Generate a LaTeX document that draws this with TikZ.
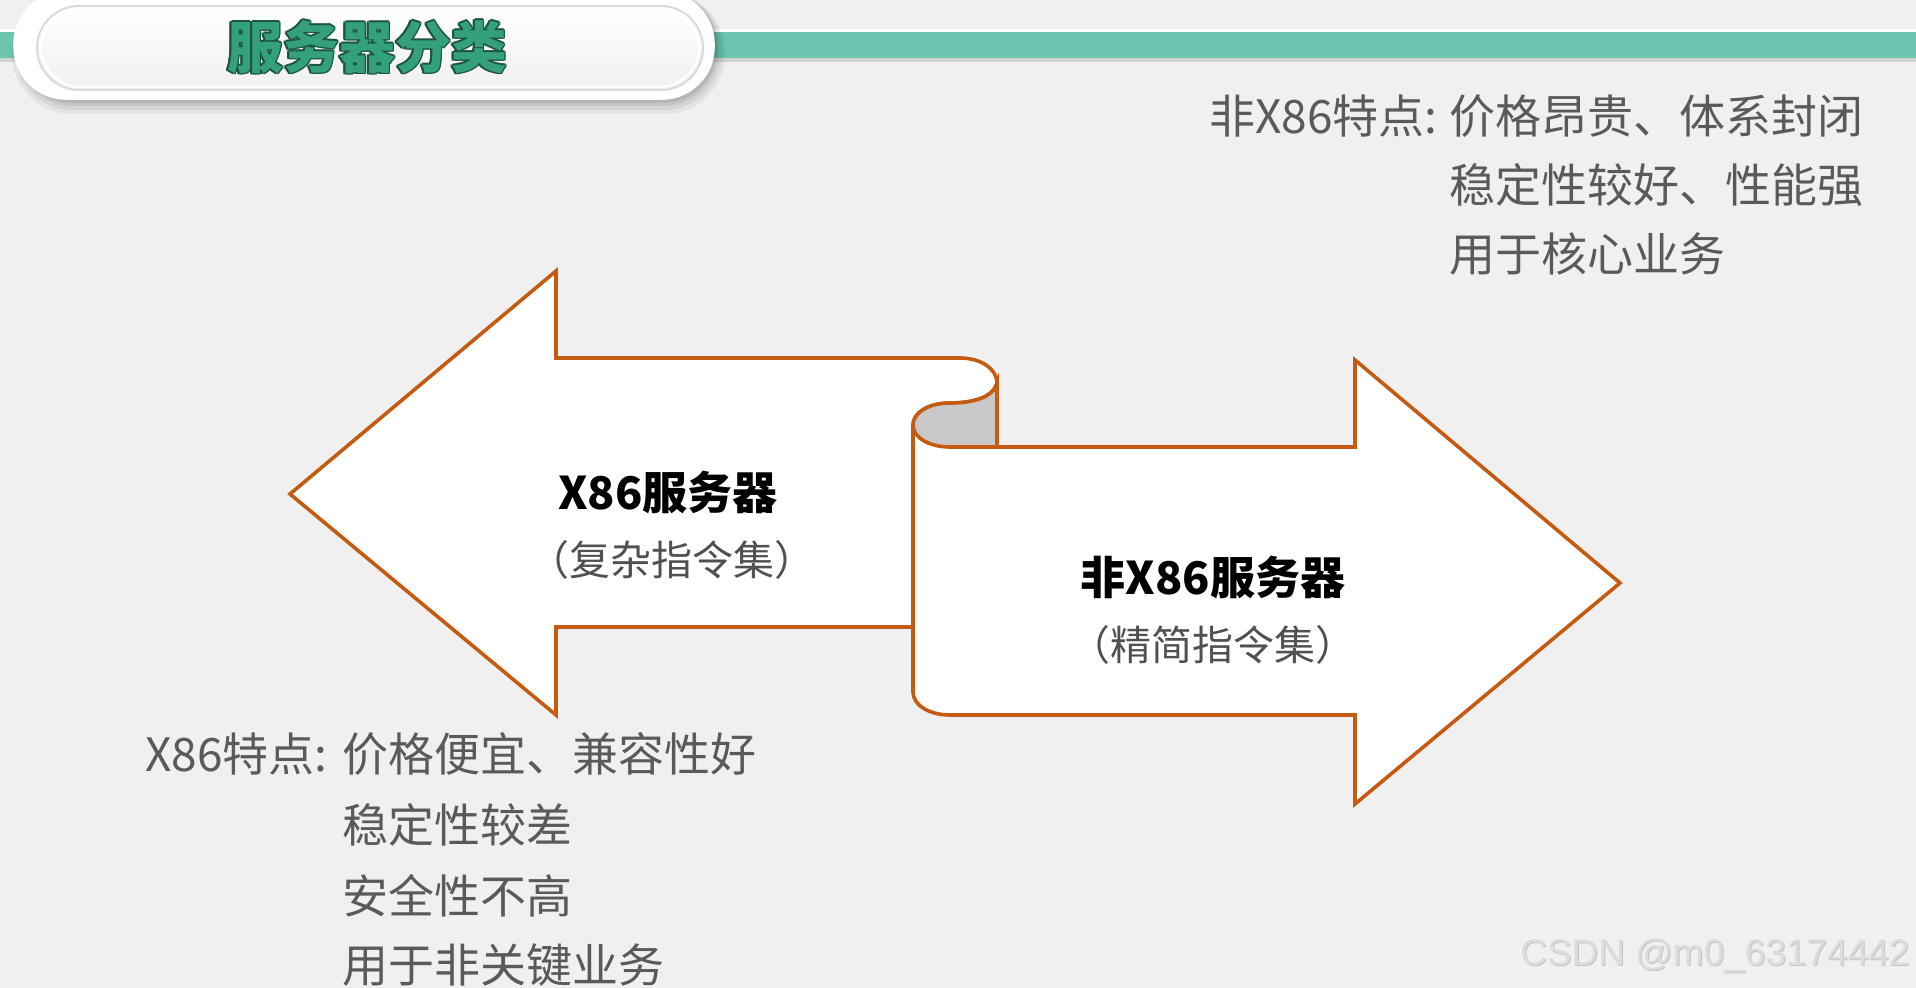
\documentclass[tikz,border=0pt]{standalone}
\usepackage{fontspec}
\usetikzlibrary{calc}
\setmainfont{Liberation Sans}
\newfontfamily\cjk{Noto Sans CJK SC}
\definecolor{bg}{HTML}{F0F0F0}
\definecolor{band}{HTML}{6AC4AE}
\definecolor{bandshadow}{HTML}{D0D3D2}
\definecolor{arrowline}{HTML}{C55A11}
\definecolor{curlfill}{HTML}{C8C8C8}
\definecolor{desctext}{HTML}{5A5A5A}
\definecolor{subtext}{HTML}{505050}
\definecolor{titlegreen}{HTML}{34A07C}
\definecolor{titledark}{HTML}{1B5443}
\definecolor{pillline}{HTML}{DADADA}
\definecolor{wmark}{HTML}{DCDCDC}
\definecolor{wmarkshadow}{HTML}{C4C4C4}
\begin{document}
\begin{tikzpicture}[x=0.5pt,y=-0.5pt,
  desc/.style={font=\cjk\fontsize{23}{28}\selectfont, text=desctext, inner sep=0pt, anchor=west},
  arrtitle/.style={font=\cjk\bfseries\fontsize{22.5}{27}\selectfont, text=black, inner sep=0pt},
  arrsub/.style={font=\cjk\fontsize{20.5}{25}\selectfont, text=subtext, inner sep=0pt},
  arrowshape/.style={draw=arrowline, line width=1.8pt, fill=white, line join=miter},
  titletext/.style={font=\cjk\bfseries\fontsize{28}{32}\selectfont, inner sep=0pt},
  wm/.style={font=\fontsize{18.5}{22}\selectfont, inner sep=0pt, anchor=east}]

\useasboundingbox (0,0) rectangle (1916,988);
\fill[bg] (0,0) rectangle (1916,988);

% header band
\fill[white] (0,29) rectangle (1916,33);
\fill[band] (0,32) rectangle (1916,58);
\fill[bandshadow] (0,58) rectangle (1916,62);

% title pill with shadow
\fill[black, opacity=0.05, rounded corners=30pt] (12,-8) rectangle (725,114);
\fill[black, opacity=0.06, rounded corners=29pt] (15,-8) rectangle (722,110);
\fill[black, opacity=0.07, rounded corners=28pt] (17,-8) rectangle (719,106);
\fill[black, opacity=0.08, rounded corners=27pt] (18,-8) rectangle (717,103);
\draw[white, fill=white, line width=0.8pt, rounded corners=26pt] (14,-8) rectangle (714,99);
\shade[top color=white, bottom color=white!90!black!60, rounded corners=21pt]
  (37,6) rectangle (703,90);
\draw[pillline, line width=1pt, rounded corners=21pt] (37,6) rectangle (703,90);
\draw[white, line width=1pt, rounded corners=20pt] (41,9) rectangle (699,87);

% title text with outline
\foreach \dx/\dy in {-1.6/0, 1.6/0, 0/-1.6, 0/1.6, -1.2/-1.2, 1.2/1.2, -1.2/1.2, 1.2/-1.2}{
  \node[titletext, text=titledark] at ($(367,47)+(\dx,\dy)$) {服务器分类};
}
\node[titletext, text=titlegreen] (title) at (367,47) {服务器分类};

% left arrow (X86)
\draw[arrowshape] (914,627) -- (556,627) -- (556,715) -- (290,494) -- (556,271) -- (556,358)
  -- (960,358) .. controls (981,358) and (997,369) .. (997,383)
  -- (997,450) -- (914,450) -- cycle;

% right arrow (non-X86)
\draw[arrowshape] (997,383) .. controls (993,398) and (972,403) .. (950,403)
  .. controls (928,403) and (913,413) .. (913,425)
  -- (913,692) .. controls (913,705) and (929,715) .. (950,715)
  -- (1355,715) -- (1355,804) -- (1620,583) -- (1355,360) -- (1355,447)
  -- (997,447) -- cycle;

% curl
\draw[draw=arrowline, line width=1.8pt, fill=curlfill, line join=round]
  (997,383) .. controls (993,398) and (972,403) .. (950,403)
  .. controls (928,403) and (913,413) .. (913,425)
  .. controls (913,437) and (928,447) .. (950,447)
  -- (997,447) -- cycle;

% arrow labels
\node[arrtitle] (x86) at (668,492) {X86服务器};
\node[arrsub] (x86sub) at (672,560) {（复杂指令集）};
\node[arrtitle] (nonx86) at (1213,577) {非X86服务器};
\node[arrsub] (nonx86sub) at (1213,645) {（精简指令集）};

% non-X86 description
\node[desc] (nxhead) at (1209,116) {非X86特点:};
\node[desc] (nx1) at (1449,116) {价格昂贵、体系封闭};
\node[desc] (nx2) at (1449,185) {稳定性较好、性能强};
\node[desc] (nx3) at (1449,254) {用于核心业务};

% X86 description
\node[desc] (xhead) at (145,754) {X86特点:};
\node[desc] (x1) at (342,754) {价格便宜、兼容性好};
\node[desc] (x2) at (342,825) {稳定性较差};
\node[desc] (x3) at (342,896) {安全性不高};
\node[desc] (x4) at (342,965) {用于非关键业务};

% watermark
\node[wm, text=wmarkshadow] at (1911,957) {CSDN @m0\_63174442};
\node[wm, text=wmark] (wmk) at (1910,956) {CSDN @m0\_63174442};
\end{tikzpicture}
\end{document}
